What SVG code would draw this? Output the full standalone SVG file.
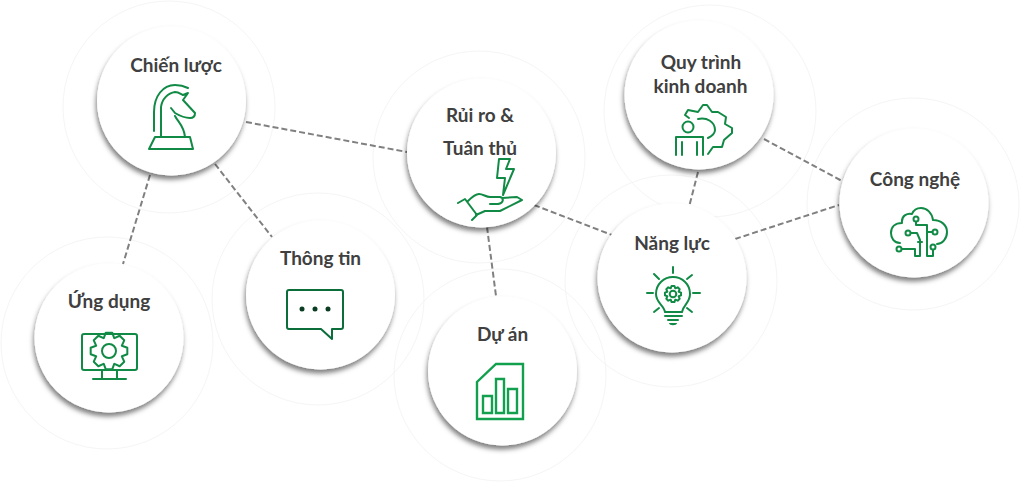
<svg xmlns="http://www.w3.org/2000/svg" width="1020" height="482" viewBox="0 0 1020 482">
<style>
.halo{fill:none;stroke:#f5f5f5;stroke-width:1}
.disc{fill:#fff;filter:url(#sh)}
.lb{font-family:"Lato","Liberation Sans",sans-serif;font-weight:700;font-size:19px;fill:#404040;text-anchor:middle}
.ic{fill:none;stroke:#108a45;stroke-width:2;stroke-linejoin:round;stroke-linecap:round}
.cn{fill:none;stroke:#808080;stroke-width:2;stroke-dasharray:6 3}
.nss{vector-effect:non-scaling-stroke}
</style>
<defs>
<filter id="sh" x="-20%" y="-20%" width="140%" height="140%"><feDropShadow dx="-1" dy="4" stdDeviation="2.800" flood-color="#000" flood-opacity=".5"/></filter>
<path id="gear8" class="nss" d="M8.340-3.370 11.820-2.080 11.820 2.080 8.340 3.370 8.280 3.510 9.830 6.890 6.890 9.830 3.510 8.280 3.370 8.340 2.080 11.820-2.080 11.820-3.370 8.340-3.510 8.280-6.890 9.830-9.830 6.890-8.280 3.510-8.340 3.370-11.820 2.080-11.820-2.080-8.340-3.370-8.280-3.510-9.830-6.890-6.890-9.830-3.510-8.280-3.370-8.340-2.080-11.820 2.080-11.820 3.370-8.340 3.510-8.280 6.890-9.830 9.830-6.890 8.280-3.510Z"/>
</defs>
<rect width="1020" height="482" fill="#fff"/>
<g id="halos">
<circle class="halo" cx="169" cy="107" r="106"/><circle class="halo" cx="107" cy="343" r="106"/><circle class="halo" cx="318" cy="299" r="106"/><circle class="halo" cx="500" cy="375" r="106"/><circle class="halo" cx="479" cy="157" r="106"/><circle class="halo" cx="710" cy="111" r="106"/><circle class="halo" cx="671" cy="281" r="106"/><circle class="halo" cx="913" cy="204" r="106"/>
</g>
<g id="connectors">
<path class="cn" d="M246 122 L407 152"/><path class="cn" d="M150 175 L123 264"/><path class="cn" d="M215 164 L272 237"/><path class="cn" d="M487 227 L496 296"/><path class="cn" d="M534 205 L612 235"/><path class="cn" d="M698 172 L689 207"/><path class="cn" d="M764 139 L842 181"/><path class="cn" d="M735 239 L839 205"/>
</g>
<g id="chien-luoc"><circle class="disc" cx="171.500" cy="101" r="74.500"/><text class="lb" x="176" y="72">Chiến lược</text>
<path class="ic" d="M154 131 V112 C154 96 163 85 175 85 C180 85 184 86 188 88 M161 137 V107 C162 99 168 93 175 92 C178 92 181 94 183 95 L188 93 L183 100 L195 113 C195 117 193 118 190 118 C186 118 180 116 175 113 L171 108 M175 116 C178 122 184 126 185 137 M155 137 H190 L193 149 H149 Z"/></g>
<g id="ung-dung"><circle class="disc" cx="109" cy="338" r="74.500"/><text class="lb" x="109" y="308">Ứng dụng</text>
<rect class="ic" x="82" y="334" width="55" height="36" rx="2"/><path class="ic" d="M102 370 V379 M117 370 V379 M93 379 H126"/><use href="#gear8" class="ic" transform="translate(109 351) scale(1.550)"/><circle class="ic" cx="109" cy="351" r="7"/></g>
<g id="thong-tin"><circle class="disc" cx="320.500" cy="295" r="74.500"/><text class="lb" x="320.500" y="265">Thông tin</text>
<path class="ic" d="M289 290 H341 Q343 290 343 292 V327 Q343 329 341 329 H332 V339 L321 329 H289 Q287 329 287 327 V292 Q287 290 289 290Z" style="stroke:#0b6e3a"/><circle cx="302" cy="309" r="2.500" fill="#0a3d22"/><circle cx="315" cy="309" r="2.500" fill="#0a3d22"/><circle cx="328" cy="309" r="2.500" fill="#0a3d22"/></g>
<g id="du-an"><circle class="disc" cx="502.500" cy="371" r="74.500"/><text class="lb" x="502.500" y="341">Dự án</text>
<path class="ic" style="stroke:#12a04f;stroke-width:2.400;stroke-linecap:butt;stroke-linejoin:miter" d="M477 419 V382 L496 364 H523 V419 Z M483 413 V396 H492 V413Z M496 413 V379 H504 V413Z M508 413 V389 H517 V413Z"/></g>
<g id="rui-ro"><circle class="disc" cx="481.500" cy="153" r="74.500"/><text class="lb" x="480" y="122">Rủi ro &amp;</text><text class="lb" x="480" y="155">Tuân thủ</text>
<path class="ic" d="M499 159 H510 L506 169 H514 L503 195 L505 178 H497Z M458 203 L465 199 L477 215 L472 220 M468 201 C472 197 475 194 479 194 C483 194 486 197 490 197 H500 C504 198 504 203 498 204 H490 M502 198 L517 197 L522 200 L500 211 H485 L476 215"/></g>
<g id="quy-trinh"><circle class="disc" cx="699" cy="95" r="74.500"/><text class="lb" x="701" y="69">Quy trình</text><text class="lb" x="700.500" y="93">kinh doanh</text>
<circle class="ic" cx="688" cy="127" r="5.500"/><path class="ic" d="M676 155 V137 H703 V155 M682 142 V155 M697 142 V155 M708 154 L713 147 H722 L724 140 L732 133 V128 L725 124 L726 117 L718 112 H712 L707 105 H703 L698 112 L688 110 L685 115 L689 118 M698 119 C707 117 715 122 715 130 C715 133 712 136 708 138"/></g>
<g id="nang-luc"><circle class="disc" cx="672" cy="278" r="74.500"/><text class="lb" x="672" y="250">Năng lực</text>
<path class="ic" d="M665 312 C664 305 656 303 656 294 C656 284 664 277 673 277 C682 277 690 284 690 294 C690 303 683 305 682 312 Z M665 316 H682 M668 320 H678 M673 267 V273 M647 293 H653 M693 293 H700 M654 274 L659 279 M692 275 L687 279 M654 312 L659 308 M692 312 L687 308"/><path d="M669 323 H677 C677 326 669 326 669 323Z" fill="#108a45"/><use href="#gear8" class="ic" transform="translate(673 294) scale(.68)"/><circle class="ic" cx="673" cy="294" r="3.300"/></g>
<g id="cong-nghe"><circle class="disc" cx="914" cy="203" r="74.500"/><text class="lb" x="915" y="186">Công nghệ</text>
<path class="ic" d="M900 243 C894 243 891 238 891 233 C891 227 895 223 902 223 C901 215 908 213 912 214 C914 209 918 208 921 208 C927 208 932 213 933 220 C941 220 947 225 947 232 C947 239 942 244 937 244 M916 222 V225 H927 V256 H933 V250 M928 232 H932.500 M911 233 H917 L920 240 V256 H915 V249 H902 M918 242 H922"/><circle class="ic" cx="916" cy="219" r="2.500"/><circle class="ic" cx="935" cy="232" r="2.500"/><circle class="ic" cx="908" cy="233" r="2.500"/><circle class="ic" cx="899" cy="249" r="2.500"/><circle class="ic" cx="933" cy="247" r="2.500"/></g>
</svg>
